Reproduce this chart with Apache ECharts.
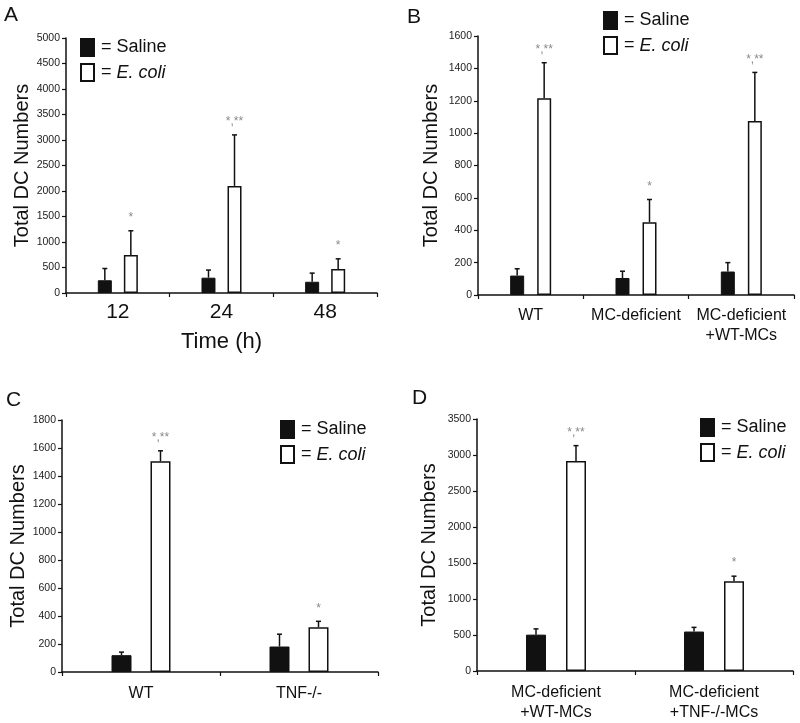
<!DOCTYPE html>
<html>
<head>
<meta charset="utf-8">
<script src="https://cdn.jsdelivr.net/npm/echarts@6/dist/echarts.min.js"></script>
<style>
html,body{margin:0;padding:0;background:#fff;}
#chart{width:800px;height:723px;}
</style>
</head>
<body>
<div id="chart"></div>
<script>
// ---------- DATA ----------
// Panel A
const catsA = ['12', '24', '48'];
const salineA = [250, 300, 220];
const salineErrA = [230, 150, 170];
const ecoliA = [745, 2100, 470];
const ecoliErrA = [475, 1000, 200];
const annotA = ['*', '*,**', '*'];
const yTicksA = { max: 5000, interval: 500 };

// Panel B
const catsB = ['WT', 'MC-deficient', 'MC-deficient\n+WT-MCs'];
const salineB = [120, 105, 145];
const salineErrB = [42, 42, 55];
const ecoliB = [1215, 450, 1075];
const ecoliErrB = [220, 140, 300];
const annotB = ['*,**', '*', '*,**'];
const yTicksB = { max: 1600, interval: 200 };

// Panel C
const catsC = ['WT', 'TNF-/-'];
const salineC = [120, 182];
const salineErrC = [22, 88];
const ecoliC = [1505, 320];
const ecoliErrC = [75, 42];
const annotC = ['*,**', '*'];
const yTicksC = { max: 1800, interval: 200 };

// Panel D
const catsD = ['MC-deficient\n+WT-MCs', 'MC-deficient\n+TNF-/-MCs'];
const salineD = [505, 548];
const salineErrD = [80, 58];
const ecoliD = [2915, 1245];
const ecoliErrD = [215, 72];
const annotD = ['*,**', '*'];
const yTicksD = { max: 3500, interval: 500 };

const seriesNames = ['Saline', 'E. coli'];
const yAxisTitle = 'Total DC Numbers';
const xAxisTitleA = 'Time (h)';
const panelLetters = ['A', 'B', 'C', 'D'];

// ---------- LAYOUT / STYLE ----------
const FONT = 'Liberation Sans, Arial, sans-serif';

const panels = [
  { cats: catsA, s: salineA, se: salineErrA, e: ecoliA, ee: ecoliErrA, an: annotA, yt: yTicksA,
    grid: { left: 66, top: 38, width: 311, height: 255 }, barW: 14, gapPx: 12,
    xFont: 21, xMargin: 8, xLineH: 22, nameGap: 25,
    legend: { left: 80, top: 38 }, letter: { x: 4, y: 5 } },
  { cats: catsB, s: salineB, se: salineErrB, e: ecoliB, ee: ecoliErrB, an: annotB, yt: yTicksB,
    grid: { left: 478, top: 36, width: 316, height: 259 }, barW: 14, gapPx: 13,
    xFont: 16, xMargin: 11, xLineH: 20, nameGap: 37,
    legend: { left: 603, top: 11 }, letter: { x: 407, y: 7 } },
  { cats: catsC, s: salineC, se: salineErrC, e: ecoliC, ee: ecoliErrC, an: annotC, yt: yTicksC,
    grid: { left: 62, top: 420, width: 316, height: 252 }, barW: 20, gapPx: 19,
    xFont: 16, xMargin: 12, xLineH: 20, nameGap: 22,
    legend: { left: 280, top: 420 }, letter: { x: 6, y: 390 } },
  { cats: catsD, s: salineD, se: salineErrD, e: ecoliD, ee: ecoliErrD, an: annotD, yt: yTicksD,
    grid: { left: 477, top: 419, width: 316, height: 253 }, barW: 20, gapPx: 20,
    xFont: 16, xMargin: 12, xLineH: 20, nameGap: 38,
    legend: { left: 700, top: 418 }, letter: { x: 412, y: 388 } }
];

const option = {
  animation: false,
  backgroundColor: '#fff',
  grid: [], xAxis: [], yAxis: [], series: [], legend: [], graphic: []
};

function errorBarSeries(pi, vals, errs, annots, offset) {
  return {
    type: 'custom',
    name: 'err' + pi + '_' + offset,
    xAxisIndex: pi, yAxisIndex: pi,
    silent: true,
    z: 1,
    data: vals.map((v, i) => [i, v, errs[i]]),
    encode: { x: 0, y: 1 },
    renderItem: function (params, api) {
      const idx = api.value(0);
      const v = api.value(1);
      const er = api.value(2);
      const base = api.coord([idx, v]);
      const top = api.coord([idx, v + er]);
      const x = base[0] + offset;
      const children = [
        { type: 'line', shape: { x1: x, y1: base[1], x2: x, y2: top[1] },
          style: { stroke: '#111', lineWidth: 1.5 } },
        { type: 'line', shape: { x1: x - 2.5, y1: top[1], x2: x + 2.5, y2: top[1] },
          style: { stroke: '#111', lineWidth: 1.5 } }
      ];
      const a = annots ? annots[params.dataIndex] : null;
      if (a) {
        children.push({ type: 'text', x: x, y: top[1] - 7,
          style: { text: a, fill: '#8a8a8a', font: '12px ' + FONT, align: 'center', verticalAlign: 'bottom' } });
      }
      return { type: 'group', children: children };
    }
  };
}

panels.forEach((p, pi) => {
  option.grid.push(Object.assign({ containLabel: false }, p.grid));
  option.xAxis.push({
    type: 'category', gridIndex: pi, data: p.cats,
    axisLine: { lineStyle: { color: '#111', width: 1.5 } },
    axisTick: { show: true, length: 4, lineStyle: { color: '#111', width: 1.2 } },
    axisLabel: { color: '#111', fontSize: p.xFont, fontFamily: FONT, margin: p.xMargin, lineHeight: p.xLineH, interval: 0 },
    splitLine: { show: false },
    name: pi === 0 ? xAxisTitleA : '',
    nameLocation: 'middle', nameGap: 38,
    nameTextStyle: { color: '#111', fontSize: 22, fontFamily: FONT }
  });
  option.yAxis.push({
    type: 'value', gridIndex: pi, min: 0, max: p.yt.max, interval: p.yt.interval,
    axisLine: { show: true, lineStyle: { color: '#111', width: 1.5 } },
    axisTick: { show: true, length: 4, lineStyle: { color: '#111', width: 1.2 } },
    axisLabel: { color: '#222', fontSize: 10.5, fontFamily: FONT, margin: 6,
      formatter: function (v) { return String(v); } },
    splitLine: { show: false },
    name: yAxisTitle, nameLocation: 'middle', nameGap: p.nameGap,
    nameTextStyle: { color: '#111', fontSize: 20, fontFamily: FONT }
  });
  const gapPct = Math.round(p.gapPx / p.barW * 100) + '%';
  option.series.push({
    type: 'bar', name: seriesNames[0], xAxisIndex: pi, yAxisIndex: pi,
    data: p.s, barWidth: p.barW, barGap: gapPct,
    itemStyle: { color: '#111', borderColor: '#111', borderWidth: 1 }, z: 2
  });
  option.series.push({
    type: 'bar', name: seriesNames[1], xAxisIndex: pi, yAxisIndex: pi,
    data: p.e, barWidth: p.barW, barGap: gapPct,
    itemStyle: { color: '#fff', borderColor: '#111', borderWidth: 1.5 }, z: 2
  });
  const off = (p.barW + p.gapPx) / 2;
  option.series.push(errorBarSeries(pi, p.s, p.se, null, -off));
  option.series.push(errorBarSeries(pi, p.e, p.ee, p.an, off));
  option.legend.push({
    data: seriesNames, orient: 'vertical', left: p.legend.left, top: p.legend.top,
    padding: 0, itemGap: 6, itemWidth: 13, itemHeight: 17, icon: 'rect',
    selectedMode: false,
    formatter: function (name) { return name === 'E. coli' ? '= {i|E. coli}' : '= Saline'; },
    textStyle: { color: '#111', fontSize: 18, fontFamily: FONT, padding: [0, 0, 0, 2],
      rich: { i: { fontStyle: 'italic', fontSize: 18, fontFamily: FONT, color: '#111' } } }
  });
  option.graphic.push({
    type: 'text', left: p.letter.x, top: p.letter.y,
    style: { text: panelLetters[pi], font: '21px ' + FONT, fill: '#111' }
  });
});

const chart = echarts.init(document.getElementById('chart'), null, { renderer: 'canvas' });
chart.setOption(option);
</script>
</body>
</html>
